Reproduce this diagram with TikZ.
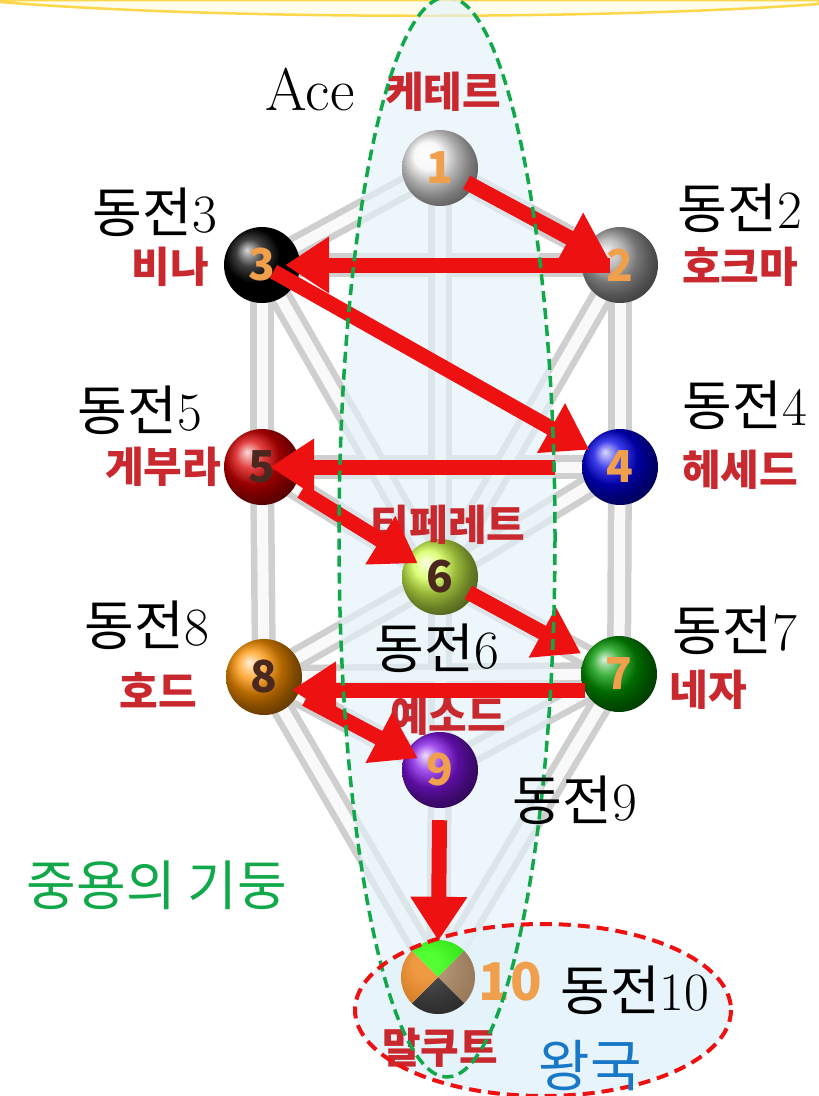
\documentclass[tikz,border=0pt]{standalone}
\usepackage{fontspec}
\usepackage{tikz}
\usetikzlibrary{arrows.meta}
\newfontfamily\kr{Noto Sans CJK KR}
\definecolor{arrred}{HTML}{EE1111}
\definecolor{namered}{HTML}{C8282E}
\definecolor{digit}{HTML}{F0A04C}
\definecolor{brownd}{HTML}{4A2820}
\definecolor{pillargreen}{HTML}{10A848}
\definecolor{kingblue}{HTML}{1878C8}
\definecolor{paleblue}{HTML}{E2F2FA}
\definecolor{purp}{HTML}{8214E6}
\begin{document}
\begin{tikzpicture}[x=1pt,y=-1pt,
  sph/.style={circle,minimum size=76pt,inner sep=0pt,text=digit,font=\kr\bfseries\fontsize{44}{44}\selectfont},
  sefira/.style={text=namered,font=\kr\bfseries\fontsize{42}{44}\selectfont},
  coin/.style={font=\fontsize{54}{60}\selectfont},
  stick/.style={line width=24pt,draw=gray!38},
  hilite/.style={line width=11pt,draw=white!95!gray},
  arr/.style={draw=arrred,line width=15pt,-{Triangle[length=44pt,width=54pt]}}]
\useasboundingbox (0,0) rectangle (819,1096);
\fill[white] (0,0) rectangle (819,1096);
\draw[fill=yellow!8,draw=yellow!60!orange!70,line width=2.5pt] (0,0) -- (819,0) -- (819,4) .. controls (600,20) and (220,20) .. (0,2) -- cycle;
\coordinate (p1) at (440,168);
\coordinate (p2) at (620,265);
\coordinate (p3) at (262,265);
\coordinate (p4) at (620,467);
\coordinate (p5) at (262,467);
\coordinate (p6) at (440,577);
\coordinate (p7) at (619,674);
\coordinate (p8) at (264,677);
\coordinate (p9) at (440,770);
\coordinate (p10) at (438,977);
\foreach \a/\b in {1/2,1/3,1/6,2/3,2/4,2/6,3/5,3/6,4/5,4/6,4/7,5/6,5/8,6/7,6/8,6/9,7/8,7/9,7/10,8/9,8/10,9/10}
  \draw[stick] (p\a) -- (p\b);
\foreach \a/\b in {1/2,1/3,1/6,2/3,2/4,2/6,3/5,3/6,4/5,4/6,4/7,5/6,5/8,6/7,6/8,6/9,7/8,7/9,7/10,8/9,8/10,9/10}
  \draw[hilite] (p\a) -- (p\b);
\coordinate (pillar) at (447,537);
\coordinate (kingdom) at (543,1010);
\fill[paleblue,opacity=.65] (pillar) ellipse[x radius=108,y radius=540];
\fill[paleblue,opacity=.8] (kingdom) ellipse[x radius=188,y radius=86];
\node[sph,ball color=white!92!gray] (1) at (p1) {1};
\node[sph,ball color=gray!70] (2) at (p2) {2};
\node[sph,ball color=black] (3) at (p3) {3};
\node[sph,ball color=blue!90!black] (4) at (p4) {4};
\node[sph,ball color=red!85!black,text=brownd] (5) at (p5) {5};
\node[sph,ball color=yellow!75!green!70,text=brownd] (6) at (p6) {6};
\node[sph,ball color=green!60!black] (7) at (p7) {7};
\node[sph,ball color=orange!85!yellow,text=brownd] (8) at (p8) {8};
\node[sph,ball color=purp] (9) at (p9) {9};
\node[sph] (10) at (p10) {};
\begin{scope}
  \clip (10.center) circle[radius=37];
  \fill[green!80!lime] (10.center) -- ++(-60,-60) -- ++(120,0) -- cycle;
  \fill[brown!60!gray] (10.center) -- ++(60,-60) -- ++(0,120) -- cycle;
  \fill[black!88] (10.center) -- ++(60,60) -- ++(-120,0) -- cycle;
  \fill[orange!70!brown] (10.center) -- ++(-60,60) -- ++(0,-120) -- cycle;
  \shade[ball color=white,opacity=.2] (10.center) circle[radius=37];
\end{scope}
\node[sefira] (keter) at (443,92) {케테르};
\node[sefira] (binah) at (170,267) {비나};
\node[sefira] (chokmah) at (740,267) {호크마};
\node[sefira] (geburah) at (163,467) {게부라};
\node[sefira] (chesed) at (740,470) {헤세드};
\node[sefira] (tiphareth) at (448,525) {티페레트};
\node[sefira] (hod) at (158,690) {호드};
\node[sefira] (netzach) at (708,690) {네자};
\node[sefira] (yesod) at (448,716) {예소드};
\node[sefira] (malkuth) at (440,1048) {말쿠트};
\node[text=digit,font=\kr\bfseries\fontsize{52}{52}\selectfont] (ten) at (510,982) {10};
\draw[arr,shorten <=-8pt,shorten >=-25pt] (1) -- (2);
\draw[arr,shorten <=-28pt,shorten >=-15pt] (2) -- (3);
\draw[arr,shorten <=-25pt,shorten >=-3pt] (3) -- (4);
\draw[arr,shorten <=27pt,shorten >=-30pt] (4) -- (5);
\draw[arr,shorten <=8pt,shorten >=-12pt] (5) -- (6);
\draw[arr,shorten <=-6pt,shorten >=5pt] (6) -- (7);
\draw[arr,shorten <=34pt,shorten >=28pt] ([yshift=-16pt]7.center) -- ([yshift=-13pt]8.center);
\draw[arr,shorten <=9pt,shorten >=-13pt] (8) -- (9);
\draw[arr,shorten <=12pt,shorten >=-2pt] (9) -- (10);
\draw[pillargreen,line width=3.5pt,dash pattern=on 11pt off 6pt] (pillar) ellipse[x radius=108,y radius=540];
\draw[arrred,line width=4pt,dash pattern=on 12pt off 7pt] (kingdom) ellipse[x radius=188,y radius=86];
\node[font=\fontsize{60}{66}\selectfont] (ace) at (310,90) {Ace};
\node[coin] (c3) at (155,212) {{\kr 동전}3};
\node[coin] (c2) at (740,208) {{\kr 동전}2};
\node[coin] (c5) at (140,410) {{\kr 동전}5};
\node[coin] (c4) at (745,405) {{\kr 동전}4};
\node[coin] (c8) at (147,625) {{\kr 동전}8};
\node[coin] (c7) at (735,630) {{\kr 동전}7};
\node[coin] (c6) at (437,648) {{\kr 동전}6};
\node[coin] (c9) at (575,800) {{\kr 동전}9};
\node[coin] (c10) at (635,990) {{\kr 동전}10};
\node[text=pillargreen,font=\kr\fontsize{54}{58}\selectfont] (middle) at (157,885) {중용의 기둥};
\node[text=kingblue,font=\kr\fontsize{56}{60}\selectfont] (king) at (590,1066) {왕국};
\end{tikzpicture}
\end{document}
